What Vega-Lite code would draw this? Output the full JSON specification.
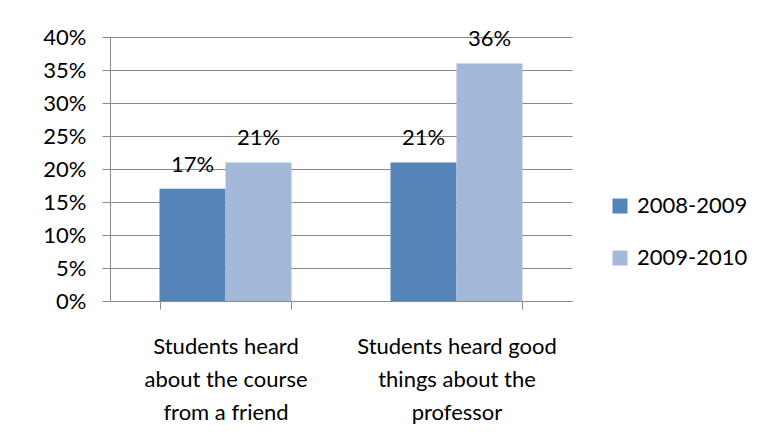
{
  "$schema": "https://vega.github.io/schema/vega-lite/v6.json",
  "width": 462,
  "height": 264,
  "autosize": {"type": "none"},
  "padding": {"left": 110, "top": 37, "right": 194, "bottom": 146},
  "background": "white",
  "config": {
    "view": {"stroke": null},
    "font": "Lato",
    "text": {"font": "Lato"}
  },
  "data": {
    "values": [
      {"reason": "Students heard about the course from a friend", "year": "2008-2009", "share": 0.17},
      {"reason": "Students heard about the course from a friend", "year": "2009-2010", "share": 0.21},
      {"reason": "Students heard good things about the professor", "year": "2008-2009", "share": 0.21},
      {"reason": "Students heard good things about the professor", "year": "2009-2010", "share": 0.36}
    ]
  },
  "encoding": {
    "x": {
      "field": "reason",
      "type": "nominal",
      "sort": null,
      "scale": {"paddingInner": 0.4286, "paddingOuter": 0.2143},
      "axis": {
        "title": null,
        "labelAngle": 0,
        "labelFont": "Lato",
        "labelFontSize": 22,
        "labelColor": "#000000",
        "labelLineHeight": 33,
        "labelPadding": 27,
        "labelLimit": 400,
        "labelExpr": "datum.value == 'Students heard about the course from a friend' ? ['Students heard', 'about the course', 'from a friend'] : datum.value == 'Students heard good things about the professor' ? ['Students heard good', 'things about the', 'professor'] : ''",
        "tickBand": "extent",
        "tickSize": 8,
        "tickColor": "#8a8a8a",
        "domainColor": "#8a8a8a",
        "grid": false
      }
    },
    "xOffset": {"field": "year", "type": "nominal"},
    "y": {
      "field": "share",
      "type": "quantitative",
      "scale": {"domain": [0, 0.4], "nice": false},
      "axis": {
        "title": null,
        "format": ".0%",
        "values": [0, 0.05, 0.1, 0.15, 0.2, 0.25, 0.3, 0.35, 0.4],
        "labelFont": "Lato",
        "labelFontSize": 22,
        "labelColor": "#000000",
        "labelPadding": 16,
        "tickSize": 8,
        "tickColor": "#8a8a8a",
        "domainColor": "#8a8a8a",
        "grid": true,
        "gridColor": "#8a8a8a"
      }
    }
  },
  "layer": [
    {
      "mark": {"type": "bar"},
      "encoding": {
        "color": {
          "field": "year",
          "type": "nominal",
          "scale": {"domain": ["2008-2009", "2009-2010"], "range": ["#5584B9", "#A4B8DA"]},
          "legend": {
            "orient": "none",
            "legendX": 499,
            "legendY": 158,
            "title": null,
            "padding": 0,
            "labelFont": "Lato",
            "labelFontSize": 22,
            "labelColor": "#000000",
            "labelOffset": 6,
            "symbolType": "square",
            "symbolSize": 225,
            "symbolStrokeWidth": 0,
            "rowPadding": 30
          }
        }
      }
    },
    {
      "mark": {"type": "text", "baseline": "alphabetic", "dy": -17, "fontSize": 22, "font": "Lato", "color": "#000000"},
      "encoding": {
        "text": {"field": "share", "type": "quantitative", "format": ".0%"}
      }
    }
  ]
}
